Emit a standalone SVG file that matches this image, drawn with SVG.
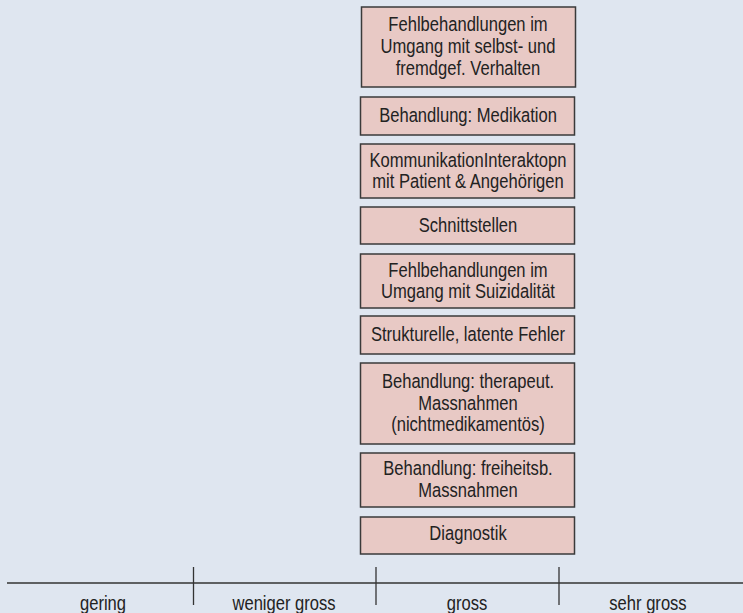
<svg xmlns="http://www.w3.org/2000/svg" width="743" height="613" viewBox="0 0 743 613">
<style>
.bg{fill:#dfe6f0}
.box{fill:#e8c9c5;stroke:#3a3a3a;stroke-width:1.5}
.t{font-family:"Liberation Sans",Arial,sans-serif;font-size:19.5px;fill:#222;text-anchor:middle}
.ax{stroke:#333;stroke-width:1.3;fill:none}
</style>
<rect class="bg" x="0" y="0" width="743" height="613"/>
<g id="n1"><rect class="box" x="361.5" y="7" width="214" height="80"/><text class="t" transform="matrix(0.85 0 0 1 468 0)"><tspan x="0" y="31">Fehlbehandlungen im</tspan><tspan x="0" y="53">Umgang mit selbst- und</tspan><tspan x="0" y="75">fremdgef. Verhalten</tspan></text></g>
<g id="n2"><rect class="box" x="360.5" y="97" width="214" height="38"/><text class="t" transform="matrix(0.85 0 0 1 468 0)" x="0" y="122">Behandlung: Medikation</text></g>
<g id="n3"><rect class="box" x="360.5" y="144" width="214" height="54"/><text class="t" transform="matrix(0.85 0 0 1 468 0)"><tspan x="0" y="167">KommunikationInteraktopn</tspan><tspan x="0" y="188">mit Patient &amp; Angehörigen</tspan></text></g>
<g id="n4"><rect class="box" x="360.5" y="207" width="214" height="37"/><text class="t" transform="matrix(0.85 0 0 1 468 0)" x="0" y="232">Schnittstellen</text></g>
<g id="n5"><rect class="box" x="360.5" y="254" width="214" height="54"/><text class="t" transform="matrix(0.85 0 0 1 468 0)"><tspan x="0" y="277">Fehlbehandlungen im</tspan><tspan x="0" y="298">Umgang mit Suizidalität</tspan></text></g>
<g id="n6"><rect class="box" x="360.5" y="316" width="214" height="38"/><text class="t" transform="matrix(0.85 0 0 1 468 0)" x="0" y="341">Strukturelle, latente Fehler</text></g>
<g id="n7"><rect class="box" x="360.5" y="363" width="214" height="81"/><text class="t" transform="matrix(0.85 0 0 1 468 0)"><tspan x="0" y="388">Behandlung: therapeut.</tspan><tspan x="0" y="410">Massnahmen</tspan><tspan x="0" y="431">(nichtmedikamentös)</tspan></text></g>
<g id="n8"><rect class="box" x="360.5" y="453" width="214" height="54"/><text class="t" transform="matrix(0.85 0 0 1 468 0)"><tspan x="0" y="475">Behandlung: freiheitsb.</tspan><tspan x="0" y="497">Massnahmen</tspan></text></g>
<g id="n9"><rect class="box" x="360.5" y="517" width="214" height="37"/><text class="t" transform="matrix(0.85 0 0 1 468 0)" x="0" y="540">Diagnostik</text></g>
<g id="axis">
<line class="ax" x1="7" y1="583" x2="743" y2="583"/>
<line class="ax" x1="193.5" y1="567" x2="193.5" y2="605"/>
<line class="ax" x1="376" y1="567" x2="376" y2="605"/>
<line class="ax" x1="559" y1="567" x2="559" y2="605"/>
<text class="t" transform="matrix(0.85 0 0 1 103 0)" x="0" y="610">gering</text>
<text class="t" transform="matrix(0.85 0 0 1 284 0)" x="0" y="610">weniger gross</text>
<text class="t" transform="matrix(0.85 0 0 1 467 0)" x="0" y="610">gross</text>
<text class="t" transform="matrix(0.85 0 0 1 648 0)" x="0" y="610">sehr gross</text>
</g>
</svg>
